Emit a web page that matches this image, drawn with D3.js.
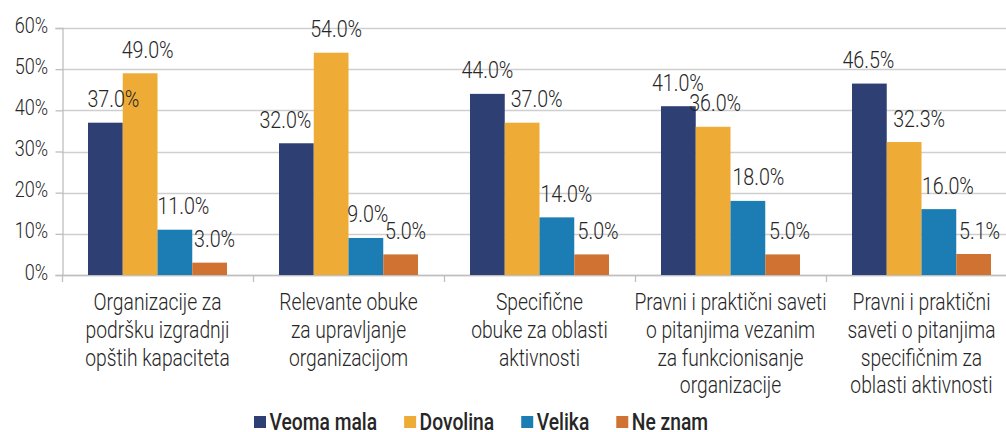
<!DOCTYPE html>
<html>
<head>
<meta charset="utf-8">
<script src="https://cdn.jsdelivr.net/npm/d3@7/dist/d3.min.js"></script>
<style>
  html, body { margin: 0; padding: 0; background: #fff; }
  svg { display: block; }
  text { font-family: Roboto, "Noto Sans", sans-serif; fill: #262626; }
</style>
</head>
<body>
<svg id="chart" width="1006" height="432"></svg>
<script>
// ---- data ----
const categories = [
  ["Organizacije za", "podršku izgradnji", "opštih kapaciteta"],
  ["Relevante obuke", "za upravljanje", "organizacijom"],
  ["Specifične", "obuke za oblasti", "aktivnosti"],
  ["Pravni i praktični saveti", "o pitanjima vezanim", "za funkcionisanje", "organizacije"],
  ["Pravni i praktični", "saveti o pitanjima", "specifičnim za", "oblasti aktivnosti"]
];
const seriesNames = ["Veoma mala", "Dovolina", "Velika", "Ne znam"];
const veomaMala = [37.0, 32.0, 44.0, 41.0, 46.5];
const dovolina  = [49.0, 54.0, 37.0, 36.0, 32.3];
const velika    = [11.0, 9.0, 14.0, 18.0, 16.0];
const neZnam    = [3.0, 5.0, 5.0, 5.0, 5.1];
const yTicks = [0, 10, 20, 30, 40, 50, 60];

// ---- layout / style (separate from data) ----
const colors = ["#2E3F74", "#EEAC36", "#1B7DB4", "#D07232"];
// small horizontal nudges of the value labels, as placed in the original
const labelNudge = [
  [8, -11, 0, -0.5, -1],
  [7.5, 5, 14.5, 2, 15],
  [8.5, 2, 9.5, 10.5, 9],
  [5, 5, 6.5, 7, 6]
];
const COND = 0.82; // condensed-font emulation

const series = [veomaMala, dovolina, velika, neZnam];
const svg = d3.select("#chart");

const plotL = 62, plotR = 1017, plotT = 28, plotB = 275;
const catIdx = categories.map((c, i) => i);

const x0 = d3.scaleBand().domain(catIdx).range([plotL, plotR]).padding(0);
const x1 = d3.scaleBand().domain(d3.range(series.length)).range([0, x0.bandwidth()])
  .paddingInner(0).paddingOuter(0.748);
const y = d3.scaleLinear().domain([0, 60]).range([plotB, plotT]);

function ctext(g, x, yy, str, size, weight, anchor) {
  return g.append("text")
    .attr("transform", `translate(${x},${yy}) scale(${COND},1)`)
    .attr("text-anchor", anchor || "start")
    .style("font-size", size + "px")
    .style("font-weight", weight || 300)
    .text(str);
}

// gridlines
const grid = svg.append("g");
grid.selectAll("line").data(yTicks).join("line")
  .attr("x1", plotL).attr("x2", 1006)
  .attr("y1", d => Math.round(y(d)) + 0.5).attr("y2", d => Math.round(y(d)) + 0.5)
  .attr("stroke", "#CFCFCF").attr("stroke-width", 1.3);

// y axis
const yAxis = d3.axisLeft(y).tickValues(yTicks).tickSize(7).tickFormat(d => d + "%");
const gy = svg.append("g").attr("transform", `translate(${plotL + 0.5},0)`).call(yAxis);
gy.select(".domain").attr("stroke", "#BFBFBF").attr("stroke-width", 1.3);
gy.selectAll(".tick line").attr("stroke", "#BFBFBF").attr("stroke-width", 1.3);
gy.selectAll(".tick text").remove();
yTicks.forEach(t => {
  ctext(svg, 48, y(t) + 4.5, t + "%", 22, 300, "end");
});

// x axis line + boundary ticks
const boundaries = d3.range(categories.length + 1).map(i => plotL + i * x0.step());
svg.append("line").attr("x1", plotL).attr("x2", 1006)
  .attr("y1", Math.round(plotB) + 0.5).attr("y2", Math.round(plotB) + 0.5)
  .attr("stroke", "#BFBFBF").attr("stroke-width", 1.3);
svg.append("g").selectAll("line").data(boundaries).join("line")
  .attr("x1", d => Math.round(d) + 0.5).attr("x2", d => Math.round(d) + 0.5)
  .attr("y1", plotB).attr("y2", plotB + 7)
  .attr("stroke", "#BFBFBF").attr("stroke-width", 1.3);

// bars
series.forEach((vals, s) => {
  svg.append("g").selectAll("rect").data(vals).join("rect")
    .attr("x", (d, i) => x0(i) + x1(s))
    .attr("y", d => y(d))
    .attr("width", x1.bandwidth())
    .attr("height", d => y(0) - y(d))
    .attr("fill", colors[s]);
});

// value labels
series.forEach((vals, s) => {
  vals.forEach((v, i) => {
    const cx = x0(i) + x1(s) + x1.bandwidth() / 2 + labelNudge[s][i];
    ctext(svg, cx, y(v) - 15.5, v.toFixed(1) + "%", 24, 300, "middle");
  });
});

// category labels
categories.forEach((lines, i) => {
  const cx = x0(i) + x0.bandwidth() / 2;
  lines.forEach((ln, k) => {
    ctext(svg, cx, 310 + k * 27.8, ln, 23.5, 300, "middle");
  });
});

// legend
const lg = svg.append("g");
let lx = 254;
seriesNames.forEach((name, s) => {
  lg.append("rect").attr("x", lx).attr("y", 416).attr("width", 12).attr("height", 12)
    .attr("fill", colors[s]);
  const t = ctext(lg, lx + 15.5, 429.5, name, 23.5, 500, "start");
  const w = t.node().getComputedTextLength() * COND;
  lx = lx + 15.5 + w + 27;
});
</script>
</body>
</html>
